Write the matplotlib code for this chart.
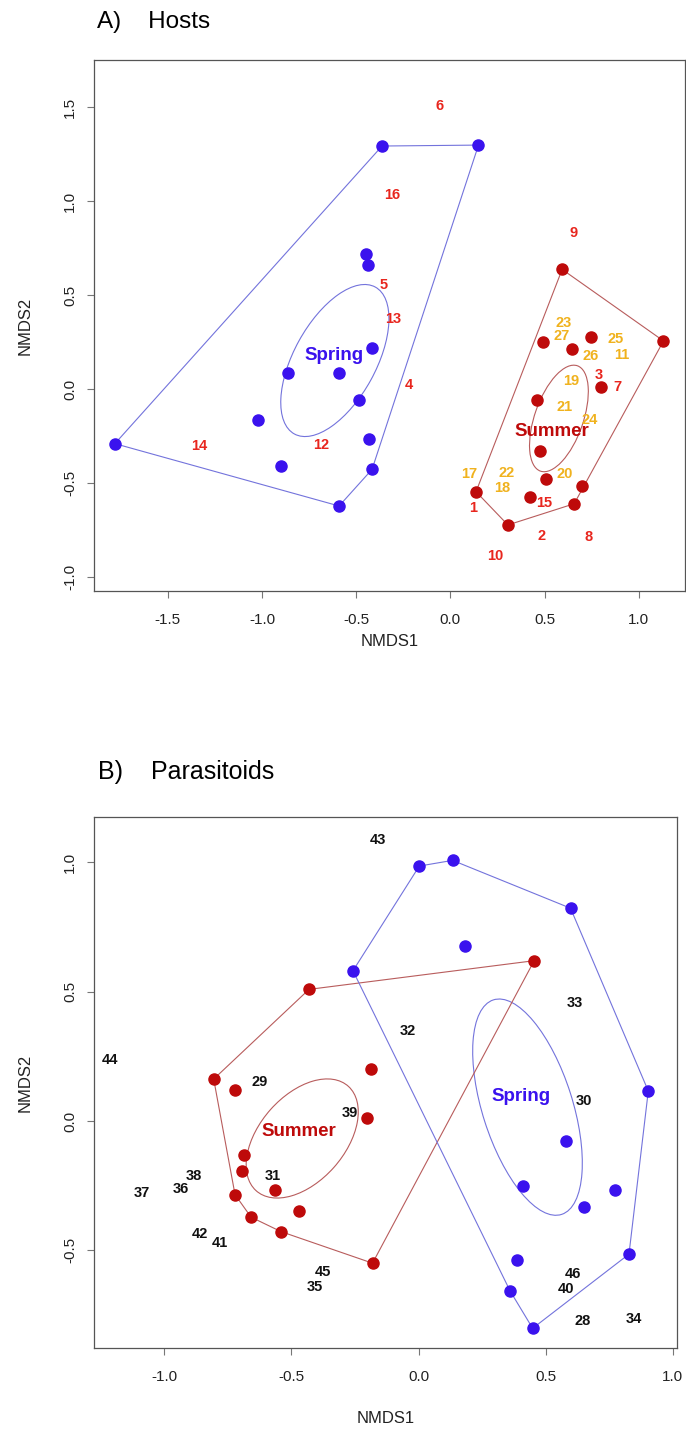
import numpy as np
import matplotlib.pyplot as plt
from matplotlib.patches import Ellipse

plt.rcParams['font.family'] = ['Liberation Sans', 'DejaVu Sans']

# ---- A) Hosts: site scores ----
host_spring_x = [-0.363, -0.446, -0.435, 0.149, -0.416, -0.860, -0.591,
                 -0.487, -1.020, -0.430, -1.781, -0.901, -0.416, -0.591]
host_spring_y = [1.294, 0.719, 0.659, 1.299, 0.220, 0.087, 0.087,
                 -0.059, -0.165, -0.265, -0.291, -0.410, -0.428, -0.623]
host_summer_x = [0.593, 1.131, 0.489, 0.747, 0.643, 0.797, 0.459,
                 0.473, 0.507, 0.701, 0.136, 0.425, 0.657, 0.305]
host_summer_y = [0.637, 0.256, 0.249, 0.279, 0.213, 0.009, -0.059,
                 -0.328, -0.479, -0.517, -0.547, -0.573, -0.611, -0.724]
host_label_xy = {'Spring': (-0.62, 0.181), 'Summer': (0.538, -0.224)}

# host species scores (labels 1-27)
host_sp_id = list(range(1, 28))
host_sp_x = [0.122, 0.482, 0.786, -0.223, -0.356, -0.055, 0.884, 0.733, 0.653,
             0.239, 0.910, -0.687, -0.306, -1.335, 0.499, -0.311, 0.099, 0.276,
             0.641, 0.605, 0.604, 0.296, 0.600, 0.737, 0.875, 0.746, 0.592]
host_sp_y = [-0.635, -0.781, 0.075, 0.021, 0.554, 1.509, 0.009, -0.790, 0.832,
             -0.888, 0.181, -0.298, 0.371, -0.302, -0.609, 1.033, -0.453, -0.526,
             0.044, -0.454, -0.094, -0.446, 0.350, -0.165, 0.265, 0.176, 0.284]
host_sp_group = ['r'] * 10 + ['y'] + ['r'] * 5 + ['y'] * 11

# ---- B) Parasitoids: site scores ----
par_spring_x = [0.003, 0.134, 0.598, 0.181, -0.258, 0.904, 0.580,
                0.412, 0.774, 0.650, 0.828, 0.387, 0.360, 0.449]
par_spring_y = [0.986, 1.008, 0.823, 0.676, 0.581, 0.116, -0.079,
                -0.250, -0.266, -0.333, -0.515, -0.539, -0.657, -0.802]
par_summer_x = [-0.431, 0.455, -0.806, -0.724, -0.186, -0.202, -0.685,
                -0.694, -0.563, -0.722, -0.469, -0.659, -0.541, -0.181]
par_summer_y = [0.509, 0.620, 0.162, 0.120, 0.201, 0.013, -0.131,
                -0.192, -0.266, -0.285, -0.349, -0.372, -0.428, -0.550]
par_label_xy = {'Spring': (0.403, 0.094), 'Summer': (-0.472, -0.041)}

# parasitoid species scores (labels 28-46)
par_sp_id = list(range(28, 47))
par_sp_x = [0.646, -0.627, 0.650, -0.573, -0.042, 0.614, 0.846, -0.409, -0.935,
            -1.089, -0.886, -0.269, 0.581, -0.783, -0.859, -0.161, -1.214, -0.378, 0.608]
par_sp_y = [-0.773, 0.152, 0.077, -0.213, 0.349, 0.455, -0.767, -0.641, -0.264,
            -0.280, -0.213, 0.030, -0.651, -0.473, -0.438, 1.087, 0.236, -0.585, -0.593]

SPRING = '#3A12EE'
SUMMER = '#BE0A0A'
SPRING_LINE = '#7373DC'
SUMMER_LINE = '#B85C5C'
SP_RED = '#E8261E'
SP_YEL = '#F0B21E'


def hull(xs, ys):
    pts = sorted(zip(xs, ys))

    def cross(o, a, b):
        return (a[0] - o[0]) * (b[1] - o[1]) - (a[1] - o[1]) * (b[0] - o[0])

    lower, upper = [], []
    for p in pts:
        while len(lower) >= 2 and cross(lower[-2], lower[-1], p) <= 0:
            lower.pop()
        lower.append(p)
    for p in reversed(pts):
        while len(upper) >= 2 and cross(upper[-2], upper[-1], p) <= 0:
            upper.pop()
        upper.append(p)
    h = lower[:-1] + upper[:-1]
    h.append(h[0])
    return [p[0] for p in h], [p[1] for p in h]


def se_ellipse(ax, xs, ys, color):
    # ordiellipse-style: standard error, 95% confidence
    xy = np.column_stack([xs, ys])
    cov = np.cov(xy.T) / len(xs)
    vals, vecs = np.linalg.eigh(cov)
    t = np.sqrt(5.991)
    ang = np.degrees(np.arctan2(vecs[1, 1], vecs[0, 1]))
    e = Ellipse(xy.mean(axis=0), 2 * t * np.sqrt(vals[1]), 2 * t * np.sqrt(vals[0]),
                angle=ang, fill=False, edgecolor=color, lw=0.8)
    ax.add_patch(e)


def draw_group(ax, xs, ys, col, line_col, label, label_xy):
    hx, hy = hull(xs, ys)
    ax.plot(hx, hy, color=line_col, lw=0.8, zorder=2)
    se_ellipse(ax, xs, ys, line_col)
    ax.plot(xs, ys, 'o', color=col, ms=8, mec=col, zorder=3)
    lx, ly = label_xy[label]
    ax.text(lx, ly, label, color=col, fontsize=13.5, fontweight='bold',
            ha='center', va='center', zorder=4)


def style(ax, xlim, ylim, xticks, yticks):
    ax.set_xlim(*xlim)
    ax.set_ylim(*ylim)
    ax.set_xticks(xticks)
    ax.set_yticks(yticks)
    ax.set_xticklabels([f'{v:.1f}' for v in xticks])
    ax.set_yticklabels([f'{v:.1f}' for v in yticks], rotation=90, va='center')
    ax.tick_params(direction='out', length=5, width=0.8, color='#777777',
                   labelsize=11, labelcolor='#222222')
    ax.tick_params(axis='x', pad=11)
    ax.tick_params(axis='y', pad=7)
    for s in ax.spines.values():
        s.set_color('#555555')
        s.set_linewidth(0.9)


fig = plt.figure(figsize=(6.86, 14.36), dpi=100)

# ---- panel A ----
axA = fig.add_axes([0.137, 0.5884, 0.8615, 0.3698])
draw_group(axA, host_spring_x, host_spring_y, SPRING, SPRING_LINE, 'Spring', host_label_xy)
draw_group(axA, host_summer_x, host_summer_y, SUMMER, SUMMER_LINE, 'Summer', host_label_xy)
for i, x, y, g in zip(host_sp_id, host_sp_x, host_sp_y, host_sp_group):
    axA.text(x, y, str(i), color=SP_RED if g == 'r' else SP_YEL,
             fontsize=10.5, fontweight='bold', ha='center', va='center', zorder=5)
style(axA, (-1.892, 1.245), (-1.076, 1.752),
      [-1.5, -1.0, -0.5, 0.0, 0.5, 1.0], [-1.0, -0.5, 0.0, 0.5, 1.0, 1.5])
axA.text(0.5, -0.0945, 'NMDS1', transform=axA.transAxes, ha='center', va='center',
         fontsize=12, color='#222222')
axA.text(-0.1168, 0.5, 'NMDS2', transform=axA.transAxes, ha='center', va='center',
         rotation=90, fontsize=12, color='#222222')

# ---- panel B ----
axB = fig.add_axes([0.137, 0.0613, 0.8499, 0.3698])
draw_group(axB, par_summer_x, par_summer_y, SUMMER, SUMMER_LINE, 'Summer', par_label_xy)
draw_group(axB, par_spring_x, par_spring_y, SPRING, SPRING_LINE, 'Spring', par_label_xy)
for i, x, y in zip(par_sp_id, par_sp_x, par_sp_y):
    axB.text(x, y, str(i), color='#111111', fontsize=10.5, fontweight='bold',
             ha='center', va='center', zorder=5)
style(axB, (-1.277, 1.017), (-0.878, 1.176),
      [-1.0, -0.5, 0.0, 0.5, 1.0], [-0.5, 0.0, 0.5, 1.0])
axB.text(0.5, -0.132, 'NMDS1', transform=axB.transAxes, ha='center', va='center',
         fontsize=12, color='#222222')
axB.text(-0.118, 0.5, 'NMDS2', transform=axB.transAxes, ha='center', va='center',
         rotation=90, fontsize=12, color='#222222')

fig.text(0.1414, 0.9847, 'A)    Hosts', fontsize=17.5, ha='left', va='center')
fig.text(0.1429, 0.4624, 'B)    Parasitoids', fontsize=18, ha='left', va='center')

fig.savefig('out.png', dpi=100)
